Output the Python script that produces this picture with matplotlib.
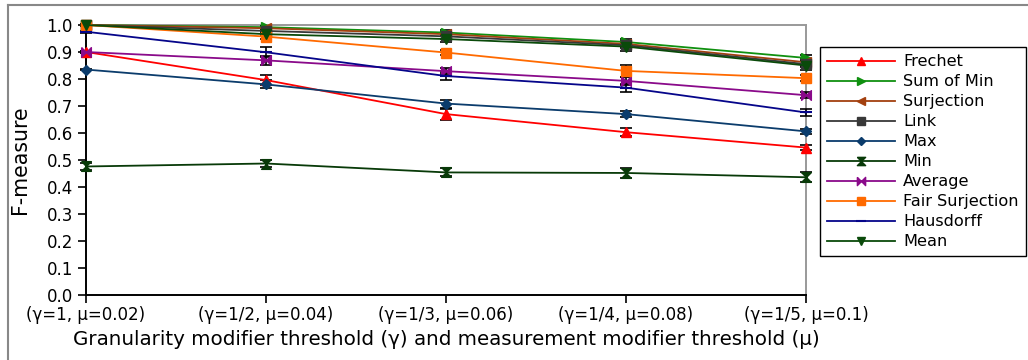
import matplotlib.pyplot as plt
from matplotlib.path import Path
from matplotlib.lines import Line2D

x_labels = ['(γ=1, μ=0.02)', '(γ=1/2, μ=0.04)', '(γ=1/3, μ=0.06)',
            '(γ=1/4, μ=0.08)', '(γ=1/5, μ=0.1)']

frechet = [0.900, 0.796, 0.670, 0.603, 0.546]
sum_of_min = [1.000, 0.992, 0.972, 0.937, 0.878]
surjection = [1.000, 0.988, 0.966, 0.930, 0.862]
link = [1.000, 0.978, 0.958, 0.925, 0.855]
max_ = [0.835, 0.780, 0.709, 0.670, 0.606]
min_ = [0.476, 0.487, 0.454, 0.452, 0.436]
average = [0.900, 0.869, 0.829, 0.793, 0.740]
fair_surjection = [1.000, 0.957, 0.898, 0.830, 0.803]
hausdorff = [0.975, 0.899, 0.811, 0.768, 0.676]
mean = [1.000, 0.966, 0.948, 0.920, 0.850]

frechet_err = [0.005, 0.020, 0.020, 0.015, 0.010]
sum_of_min_err = [0.002, 0.005, 0.008, 0.010, 0.012]
surjection_err = [0.002, 0.005, 0.008, 0.010, 0.012]
link_err = [0.002, 0.005, 0.008, 0.012, 0.012]
max_err = [0.003, 0.015, 0.015, 0.010, 0.008]
min_err = [0.012, 0.012, 0.015, 0.018, 0.018]
average_err = [0.005, 0.018, 0.010, 0.015, 0.012]
fair_surjection_err = [0.003, 0.008, 0.010, 0.022, 0.012]
hausdorff_err = [0.003, 0.018, 0.015, 0.015, 0.012]
mean_err = [0.003, 0.008, 0.010, 0.015, 0.015]

hourglass = Path([(-1, 1), (1, 1), (-1, -1), (1, -1), (-1, 1)])
bowtie = Path([(-1, 1), (0, 0), (1, 1), (1, -1), (0, 0), (-1, -1), (-1, 1)])

series = [
    ('Frechet', frechet, frechet_err, '#ff0000', '^', 7),
    ('Sum of Min', sum_of_min, sum_of_min_err, '#109010', '>', 7),
    ('Surjection', surjection, surjection_err, '#a3400f', '<', 7),
    ('Link', link, link_err, '#383838', 's', 6.5),
    ('Max', max_, max_err, '#0b3c6c', 'D', 5),
    ('Min', min_, min_err, '#083a08', hourglass, 7),
    ('Average', average, average_err, '#8a0a8a', bowtie, 7),
    ('Fair Surjection', fair_surjection, fair_surjection_err, '#ff6a00', 's', 7.5),
    ('Hausdorff', hausdorff, hausdorff_err, '#05058a', '_', 8),
    ('Mean', mean, mean_err, '#0a4a0a', 'v', 7),
]

fig = plt.figure(figsize=(10.28, 3.6), dpi=100)
ax = fig.add_axes([86 / 1028, 1 - 295 / 360, 720 / 1028, 270 / 360])

xs = list(range(len(x_labels)))
handles = []
for name, vals, err, color, marker, ms in series:
    ax.errorbar(xs, vals, yerr=err, fmt='none', ecolor='black', elinewidth=1.2,
                capsize=4, capthick=1.2, zorder=3, clip_on=False)
    line, = ax.plot(xs, vals, color=color, marker=marker, markersize=ms,
                    markeredgewidth=1.5 if marker == '_' else 1,
                    linewidth=1.3, label=name, zorder=4, clip_on=False)
    handles.append(line)

ax.set_xlim(0, 4)
ax.set_ylim(0, 1)
ax.set_xticks(xs)
ax.set_xticklabels(x_labels, fontsize=12)
ax.set_yticks([i / 10 for i in range(11)])
ax.set_yticklabels([f'{i / 10:.1f}' for i in range(11)], fontsize=12)
ax.tick_params(length=6, width=1.2, color='black')
ax.tick_params(axis='x', pad=2)
ax.set_xlabel('Granularity modifier threshold (γ) and measurement modifier threshold (μ)',
              fontsize=14.3, labelpad=4)
ax.set_ylabel('F-measure', fontsize=14.8, labelpad=12)

for side in ['left', 'bottom']:
    ax.spines[side].set_color('black')
    ax.spines[side].set_linewidth(1.4)
for side in ['top', 'right']:
    ax.spines[side].set_color('#999999')
    ax.spines[side].set_linewidth(1.4)

ax.legend(handles=handles, loc='upper left', bbox_to_anchor=(820 / 1028, 1 - 47 / 360),
          bbox_transform=fig.transFigure, fontsize=11.6, handlelength=4.2,
          handletextpad=0.5, fancybox=False, edgecolor='black', framealpha=1,
          borderaxespad=0, labelspacing=0.31, markerscale=0.85, borderpad=0.45)

fig.add_artist(Line2D([8 / 1028, 1], [1 - 5 / 360, 1 - 5 / 360], color='#888888',
                      linewidth=1.5, transform=fig.transFigure))
fig.add_artist(Line2D([8 / 1028, 8 / 1028], [0, 1 - 5 / 360], color='#888888',
                      linewidth=1.5, transform=fig.transFigure))

fig.savefig('out.png', dpi=100)
